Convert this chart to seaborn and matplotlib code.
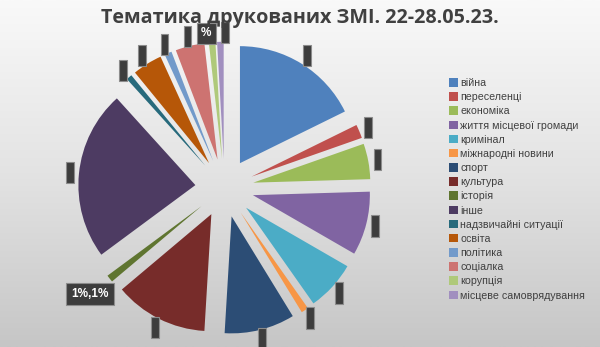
import numpy as np
import matplotlib
matplotlib.use("Agg")
import matplotlib.pyplot as plt
import seaborn as sns
from matplotlib.patches import Patch
from matplotlib.colors import LinearSegmentedColormap

categories = ["війна", "переселенці", "економіка", "життя місцевої громади", "кримінал",
              "міжнародні новини", "спорт", "культура", "історія", "інше",
              "надзвичайні ситуації", "освіта", "політика", "соціалка", "корупція",
              "місцеве самоврядування"]
values = [17.7, 1.9, 4.9, 8.8, 6.9, 1.0, 9.7, 12.9, 1.0, 23.4, 0.8, 4.1, 1.0, 4.0, 0.9, 0.9]
labels = [" ", " ", " ", " ", " ", " ", " ", " ", "1%,1%", " ", " ", " ", " ", " ", "%", " "]
colors = ["#4F81BD", "#C0504D", "#9BBB59", "#8064A2", "#4BACC6", "#F79646", "#2C4D75",
          "#772C2A", "#5F7530", "#4D3B62", "#276A7C", "#B65708", "#729ACA", "#CD7371",
          "#AFC97A", "#A18FBF"]

sns.set_theme(style="white")
plt.rcParams['font.family'] = ['Liberation Sans', 'DejaVu Sans']
palette = sns.color_palette(colors)

W, H = 600, 347
fig = plt.figure(figsize=(W / 100, H / 100), dpi=100)

# background gradient
bg = fig.add_axes([0, 0, 1, 1])
grad = np.linspace(0, 1, 256).reshape(-1, 1)
cmap = LinearSegmentedColormap.from_list("bg", ["#f9f9f9", "#e3e3e3", "#c6c6c6"])
bg.imshow(grad, aspect="auto", cmap=cmap, extent=[0, 1, 0, 1])
bg.set_axis_off()

# pie axes
cx, cy, R = 224.5, 188, 117
span = 1.5
ax = fig.add_axes([(cx - span * R) / W, (H - cy - span * R) / H, 2 * span * R / W, 2 * span * R / H])
ax.patch.set_alpha(0)

wedges, _ = ax.pie(values, colors=palette, startangle=90, counterclock=False,
                   explode=[0.25] * len(values), radius=1.0, normalize=True,
                   wedgeprops=dict(linewidth=0))
ax.set_xlim(-span, span)
ax.set_ylim(-span, span)
ax.set_axis_off()

# label angles (midangles), spread out where crowded
total = sum(values)
mids = []
acc = 0
for v in values:
    mids.append(90 - 360 * (acc + v / 2) / total)
    acc += v
adj = np.array(mids)
min_gap = 7.0
for _ in range(300):
    moved = False
    for i in range(len(adj) - 1):
        gap = adj[i] - adj[i + 1]
        if gap < min_gap:
            d = (min_gap - gap) / 2
            adj[i] += d
            adj[i + 1] -= d
            moved = True
    if not moved:
        break

for lab, a in zip(labels, adj):
    if lab == " ":
        dist, fs, pad = 1.33, 15, 0.05
    elif len(lab) > 2:
        dist, fs, pad = 1.46, 8.5, 0.45
    else:
        dist, fs, pad = 1.33, 8.5, 0.35
    x = dist * np.cos(np.radians(a))
    y = dist * np.sin(np.radians(a))
    ax.text(x, y, lab, ha="center", va="center", color="white",
            fontsize=fs, fontweight="bold",
            bbox=dict(boxstyle=f"square,pad={pad}", facecolor="#3d3d3d", edgecolor="#8c8c8c",
                      linewidth=0.8))

fig.text(0.5, 0.948, "Тематика друкованих ЗМІ. 22-28.05.23.", ha="center", va="center",
         fontsize=14.2, fontweight="bold", color="#404040", family=["Open Sans", "DejaVu Sans"])

handles = [Patch(facecolor=c, edgecolor="none") for c in colors]
leg = fig.legend(handles, categories, loc="upper left", bbox_to_anchor=(449 / W, 1 - 78 / H),
                 frameon=False, fontsize=7.7, handlelength=0.85, handleheight=0.85,
                 handletextpad=0.2, labelspacing=0.39, borderaxespad=0, borderpad=0)
for t in leg.get_texts():
    t.set_color("#404040")

fig.savefig("out.png", dpi=100)
